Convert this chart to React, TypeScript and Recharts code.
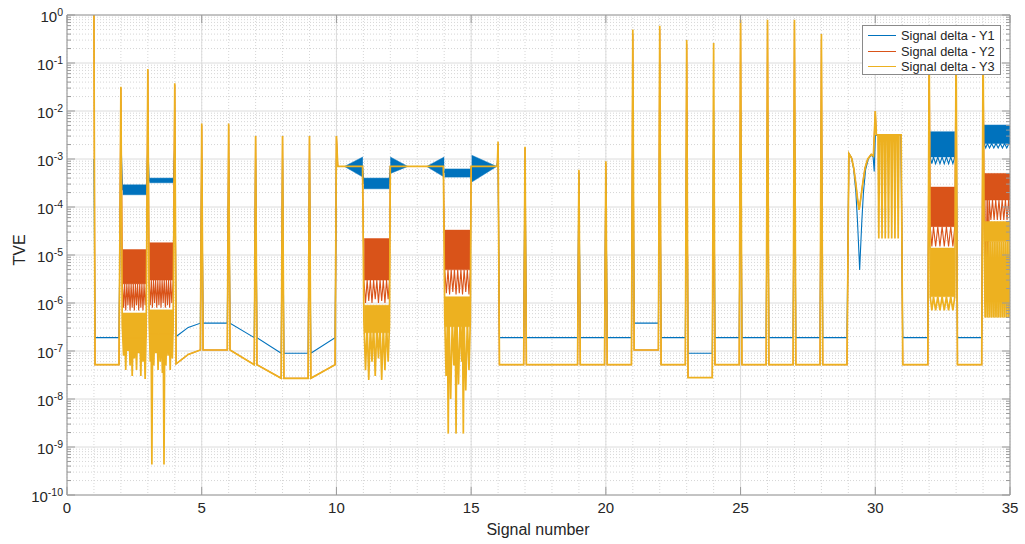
import React from "react";
import { ComposedChart, Line, Area, XAxis, YAxis, CartesianGrid } from "recharts";

const seriesNames = ["Signal delta - Y1", "Signal delta - Y2", "Signal delta - Y3"];
const seriesColors = ["#0072BD", "#D95319", "#EDB120"];

const xTicks = [0, 5, 10, 15, 20, 25, 30, 35];
const xMinorGrid = Array.from({ length: 36 }, (_, i) => i);
const decadeExps = [-10, -9, -8, -7, -6, -5, -4, -3, -2, -1, 0];
const yMajorTicks = decadeExps.map((e) => Math.pow(10, e));
const yMinorTicks = decadeExps
  .slice(0, -1)
  .flatMap((e) => [2, 3, 4, 5, 6, 7, 8, 9].map((m) => m * Math.pow(10, e)));
const yAllTicks = [...yMajorTicks, ...yMinorTicks].sort((a, b) => a - b);

// [signal, TVE]
const y1Path: [number, number][] = [
  [1.0, 1e-3], [1.04, 1.9e-7], [1.93, 1.9e-7], [2.0, 3e-3], [2.06, 2.3e-4], [2.95, 2.3e-4],
  [3.0, 2e-3], [3.05, 3.5e-4], [3.95, 3.5e-4], [4.0, 2e-3], [4.05, 2e-7], [4.5, 3.1e-7],
  [4.95, 3.8e-7], [5.0, 1e-3], [5.05, 3.8e-7], [5.95, 3.8e-7], [6.0, 1e-3], [6.05, 3.8e-7],
  [6.95, 1.9e-7], [7.0, 1e-3], [7.05, 1.9e-7], [7.95, 9e-8], [8.0, 1e-3], [8.05, 9e-8],
  [8.95, 9e-8], [9.0, 1e-3], [9.05, 9e-8], [9.95, 1.9e-7], [10.0, 1e-3], [10.05, 7e-4],
  [10.97, 7e-4], [11.02, 3.1e-4], [11.95, 3.1e-4], [12.0, 7e-4], [13.95, 7e-4],
  [14.02, 5.2e-4], [14.97, 5.2e-4], [15.02, 7e-4], [15.95, 7e-4], [16.0, 1e-3], [16.05, 1.9e-7],
  [16.95, 1.9e-7], [17.0, 1e-3], [17.05, 1.9e-7], [18.95, 1.9e-7], [19.0, 5e-4], [19.05, 1.9e-7],
  [19.95, 1.9e-7], [20.0, 5e-4], [20.05, 1.9e-7], [20.95, 1.9e-7], [21.0, 1e-2], [21.05, 3.8e-7],
  [21.95, 3.8e-7], [22.0, 1e-2], [22.05, 1.9e-7], [22.95, 1.9e-7], [23.0, 1e-2], [23.05, 9e-8],
  [23.95, 9e-8], [24.0, 1e-2], [24.05, 1.9e-7], [24.95, 1.9e-7], [25.0, 1e-2], [25.05, 1.9e-7],
  [25.95, 1.9e-7], [26.0, 1e-2], [26.05, 1.9e-7], [26.95, 1.9e-7], [27.0, 1e-2], [27.05, 1.9e-7],
  [27.95, 1.9e-7], [28.0, 1e-2], [28.05, 1.9e-7], [28.95, 1.9e-7], [29.02, 1.3e-3], [29.12, 1.05e-3],
  [29.2, 6e-4], [29.28, 2e-4], [29.34, 5e-5], [29.39, 1.2e-5], [29.42, 4.9e-6], [29.45, 1.2e-5],
  [29.5, 5e-5], [29.56, 2e-4], [29.64, 6e-4], [29.74, 1e-3], [29.85, 1.2e-3], [29.92, 1.1e-3],
  [29.96, 5.5e-4], [30.0, 3e-3], [30.05, 3.2e-3], [30.95, 3.2e-3], [31.02, 1.9e-7], [31.95, 1.9e-7],
  [32.0, 3e-3], [32.04, 1.1e-3], [32.1, 8e-4], [32.16, 1.1e-3], [32.24, 8e-4], [32.32, 1.1e-3],
  [32.4, 8e-4], [32.48, 1.1e-3], [32.56, 8e-4], [32.64, 1.1e-3], [32.72, 8e-4], [32.8, 1.1e-3],
  [32.88, 8e-4], [32.95, 1.1e-3], [33.0, 1e-2], [33.05, 1.9e-7], [33.95, 1.9e-7], [34.0, 1e-2],
  [34.04, 2.1e-3], [34.1, 1.7e-3], [34.16, 2.1e-3], [34.24, 1.7e-3], [34.32, 2.1e-3], [34.4, 1.7e-3],
  [34.48, 2.1e-3], [34.56, 1.7e-3], [34.64, 2.1e-3], [34.72, 1.7e-3], [34.8, 2.1e-3], [34.88, 1.7e-3],
  [34.96, 2.1e-3], [35.0, 2.1e-3],
];

const y2Path: [number, number][] = [
  [1.0, 1.0], [1.04, 5.2e-8], [1.93, 5.2e-8], [2.0, 3e-2],
  [2.06, 2.5e-6], [2.1, 8e-7], [2.14, 2.5e-6], [2.18, 7e-7], [2.22, 2.5e-6], [2.26, 9e-7],
  [2.3, 2.5e-6], [2.34, 7e-7], [2.38, 2.5e-6], [2.42, 8e-7], [2.46, 2.5e-6], [2.5, 7e-7],
  [2.54, 2.5e-6], [2.58, 9e-7], [2.62, 2.5e-6], [2.66, 7e-7], [2.7, 2.5e-6], [2.74, 8e-7],
  [2.78, 2.5e-6], [2.82, 7e-7], [2.86, 2.5e-6], [2.9, 9e-7], [2.95, 2.5e-6], [3.0, 7e-2],
  [3.05, 3e-6], [3.09, 9e-7], [3.13, 3e-6], [3.17, 8e-7], [3.21, 3e-6], [3.25, 1e-6],
  [3.29, 3e-6], [3.33, 8e-7], [3.37, 3e-6], [3.41, 9e-7], [3.45, 3e-6], [3.49, 8e-7],
  [3.53, 3e-6], [3.57, 1e-6], [3.61, 3e-6], [3.65, 8e-7], [3.69, 3e-6], [3.73, 9e-7],
  [3.77, 3e-6], [3.81, 8e-7], [3.85, 3e-6], [3.89, 1e-6], [3.94, 3e-6], [4.0, 3.5e-2],
  [4.05, 5.4e-8], [4.5, 8.5e-8], [4.95, 1.05e-7], [5.0, 5e-3], [5.05, 1.05e-7], [5.95, 1.05e-7],
  [6.0, 5e-3], [6.05, 1.05e-7], [6.95, 5.2e-8], [7.0, 3e-3], [7.05, 5.2e-8], [7.95, 2.7e-8],
  [8.0, 3e-3], [8.05, 2.7e-8], [8.95, 2.7e-8], [9.0, 3e-3], [9.05, 2.7e-8], [9.95, 5.2e-8],
  [10.0, 3e-3], [10.05, 7e-4], [10.97, 7e-4],
  [11.02, 3e-6], [11.08, 1e-6], [11.14, 3e-6], [11.2, 1.1e-6], [11.26, 3e-6], [11.32, 1e-6],
  [11.38, 3e-6], [11.44, 1.2e-6], [11.5, 3e-6], [11.56, 1e-6], [11.62, 3e-6], [11.68, 1.1e-6],
  [11.74, 3e-6], [11.8, 1e-6], [11.86, 3e-6], [11.92, 1.2e-6], [11.97, 3e-6],
  [12.0, 7e-4], [13.97, 7e-4],
  [14.02, 4.9e-6], [14.08, 1.6e-6], [14.14, 4.9e-6], [14.2, 1.5e-6], [14.26, 4.9e-6],
  [14.32, 1.7e-6], [14.38, 4.9e-6], [14.44, 1.5e-6], [14.5, 4.9e-6], [14.56, 1.6e-6],
  [14.62, 4.9e-6], [14.68, 1.5e-6], [14.74, 4.9e-6], [14.8, 1.7e-6], [14.86, 4.9e-6],
  [14.92, 1.5e-6], [14.97, 4.9e-6],
  [15.0, 7e-4], [15.97, 7e-4], [16.0, 2e-3], [16.05, 5.2e-8], [16.95, 5.2e-8], [17.0, 1.7e-3],
  [17.05, 5.2e-8], [18.95, 5.2e-8], [19.0, 5.5e-4], [19.05, 5.2e-8], [19.95, 5.2e-8],
  [20.0, 8e-4], [20.05, 5.2e-8], [20.95, 5.2e-8], [21.0, 0.4], [21.05, 1.05e-7], [21.95, 1.05e-7],
  [22.0, 0.5], [22.05, 5.2e-8], [22.95, 5.2e-8], [23.0, 0.25], [23.05, 2.8e-8], [23.95, 2.8e-8],
  [24.0, 3e-4], [24.05, 5.2e-8], [24.95, 5.2e-8], [25.0, 0.7], [25.05, 5.2e-8], [25.95, 5.2e-8],
  [26.0, 0.7], [26.05, 5.2e-8], [26.95, 5.2e-8], [27.0, 0.7], [27.05, 5.2e-8], [27.95, 5.2e-8],
  [28.0, 0.3], [28.05, 5.2e-8], [28.95, 5.2e-8], [29.02, 1.3e-3], [29.12, 1.05e-3], [29.2, 6.5e-4],
  [29.28, 3e-4], [29.34, 1.5e-4], [29.4, 8.7e-5], [29.46, 1.5e-4], [29.53, 3e-4], [29.62, 6.5e-4],
  [29.72, 1e-3], [29.85, 1.25e-3], [29.93, 1.15e-3], [30.0, 1e-2], [30.04, 3.2e-3],
  [30.96, 3.2e-3], [31.02, 5.2e-8], [31.95, 5.2e-8], [32.0, 0.3],
  [32.04, 3.9e-5], [32.1, 1.5e-5], [32.16, 3.9e-5], [32.24, 1.5e-5], [32.32, 3.9e-5], [32.4, 1.5e-5],
  [32.48, 3.9e-5], [32.56, 1.5e-5], [32.64, 3.9e-5], [32.72, 1.5e-5], [32.8, 3.9e-5], [32.88, 1.5e-5],
  [32.95, 3.9e-5], [33.0, 0.3], [33.05, 5.2e-8], [33.95, 5.2e-8], [34.0, 0.3],
  [34.04, 1.4e-4], [34.08, 8.4e-7], [34.11, 1.4e-4], [34.14, 1.2e-6], [34.17, 1.4e-4], [34.2, 3e-6],
  [34.23, 1.4e-4], [34.29, 5.4e-5], [34.35, 1.4e-4], [34.41, 5.4e-5], [34.47, 1.4e-4], [34.53, 5.4e-5],
  [34.59, 1.4e-4], [34.65, 5.4e-5], [34.71, 1.4e-4], [34.77, 5.4e-5], [34.83, 1.4e-4], [34.89, 5.4e-5],
  [34.95, 1.4e-4], [35.0, 6e-5],
];

const y3Path: [number, number][] = [
  [1.0, 1.0], [1.04, 5.2e-8], [1.93, 5.2e-8], [2.0, 3.2e-2],
  [2.05, 3.5e-7], [2.1, 8e-8], [2.14, 3e-7], [2.18, 4e-8], [2.22, 3e-7], [2.26, 1e-7],
  [2.3, 3e-7], [2.34, 5e-8], [2.38, 3e-7], [2.42, 3e-8], [2.46, 3e-7], [2.5, 7e-8],
  [2.54, 3e-7], [2.58, 4e-8], [2.62, 3e-7], [2.66, 9e-8], [2.7, 3e-7], [2.74, 3e-8],
  [2.78, 3e-7], [2.82, 6e-8], [2.86, 3e-7], [2.9, 2.6e-8], [2.94, 3e-7], [3.0, 7.5e-2],
  [3.05, 4e-7], [3.09, 6e-8], [3.12, 3.5e-7], [3.15, 4.3e-10], [3.18, 3.5e-7], [3.22, 5e-8],
  [3.26, 3.5e-7], [3.3, 9e-8], [3.34, 3.5e-7], [3.38, 4e-8], [3.42, 3.5e-7], [3.46, 6e-8],
  [3.5, 3.5e-7], [3.54, 3.5e-8], [3.57, 3.5e-7], [3.6, 4.3e-10], [3.63, 3.5e-7], [3.67, 5e-8],
  [3.71, 3.5e-7], [3.75, 8e-8], [3.79, 3.5e-7], [3.83, 4e-8], [3.87, 3.5e-7], [3.91, 7e-8],
  [3.94, 3.5e-7], [4.0, 3.8e-2],
  [4.05, 5.4e-8], [4.5, 8.5e-8], [4.95, 1.05e-7], [5.0, 5.5e-3], [5.05, 1.05e-7], [5.95, 1.05e-7],
  [6.0, 5.5e-3], [6.05, 1.05e-7], [6.95, 5.2e-8], [7.0, 3e-3], [7.05, 5.2e-8], [7.95, 2.7e-8],
  [8.0, 3e-3], [8.05, 2.7e-8], [8.95, 2.7e-8], [9.0, 3e-3], [9.05, 2.7e-8], [9.95, 5.2e-8],
  [10.0, 3e-3], [10.05, 7e-4], [10.97, 7e-4],
  [11.02, 4e-7], [11.08, 4e-8], [11.14, 3.5e-7], [11.2, 2.5e-8], [11.26, 3.5e-7], [11.32, 6e-8],
  [11.38, 3.5e-7], [11.44, 3e-8], [11.5, 3.5e-7], [11.56, 7e-8], [11.62, 3.5e-7], [11.68, 2.5e-8],
  [11.74, 3.5e-7], [11.8, 4e-8], [11.86, 3.5e-7], [11.92, 6e-8], [11.97, 3.5e-7],
  [12.0, 7e-4], [13.97, 7e-4],
  [14.02, 5e-7], [14.07, 3e-8], [14.12, 4.5e-7], [14.15, 1.9e-9], [14.18, 4.5e-7], [14.24, 1e-8],
  [14.3, 4.5e-7], [14.36, 5e-8], [14.41, 4.5e-7], [14.44, 1.9e-9], [14.47, 4.5e-7], [14.53, 2e-8],
  [14.59, 4.5e-7], [14.65, 6e-8], [14.68, 4.5e-7], [14.71, 1.9e-9], [14.74, 4.5e-7], [14.8, 1.5e-8],
  [14.86, 4.5e-7], [14.92, 4e-8], [14.97, 4.5e-7],
  [15.0, 7e-4], [15.97, 7e-4], [16.0, 2.3e-3], [16.05, 5.2e-8], [16.95, 5.2e-8], [17.0, 1.8e-3],
  [17.05, 5.2e-8], [18.95, 5.2e-8], [19.0, 6e-4], [19.05, 5.2e-8], [19.95, 5.2e-8],
  [20.0, 9e-4], [20.05, 5.2e-8], [20.95, 5.2e-8], [21.0, 0.5], [21.05, 1.05e-7], [21.95, 1.05e-7],
  [22.0, 0.6], [22.05, 5.2e-8], [22.95, 5.2e-8], [23.0, 0.3], [23.05, 2.8e-8], [23.95, 2.8e-8],
  [24.0, 0.26], [24.05, 5.2e-8], [24.95, 5.2e-8], [25.0, 0.8], [25.05, 5.2e-8], [25.95, 5.2e-8],
  [26.0, 0.8], [26.05, 5.2e-8], [26.95, 5.2e-8], [27.0, 0.8], [27.05, 5.2e-8], [27.95, 5.2e-8],
  [28.0, 0.4], [28.05, 5.2e-8], [28.95, 5.2e-8],
  [29.02, 1.3e-3], [29.12, 1.05e-3], [29.2, 6.5e-4], [29.28, 3e-4], [29.34, 1.5e-4], [29.4, 8.7e-5],
  [29.46, 1.5e-4], [29.53, 3e-4], [29.62, 6.5e-4], [29.72, 1e-3], [29.85, 1.25e-3],
  [29.93, 1.15e-3], [30.0, 1e-2],
  [30.04, 3.2e-3], [30.1, 3.2e-3], [30.13, 2.2e-5], [30.16, 3.2e-3], [30.22, 3.2e-3], [30.25, 2.2e-5],
  [30.28, 3.2e-3], [30.34, 3.2e-3], [30.37, 2.2e-5], [30.4, 3.2e-3], [30.46, 3.2e-3], [30.49, 2.2e-5],
  [30.52, 3.2e-3], [30.58, 3.2e-3], [30.61, 2.2e-5], [30.64, 3.2e-3], [30.7, 3.2e-3], [30.73, 2.2e-5],
  [30.76, 3.2e-3], [30.82, 3.2e-3], [30.85, 2.2e-5], [30.88, 3.2e-3], [30.96, 3.2e-3],
  [31.02, 5.2e-8], [31.95, 5.2e-8], [32.0, 0.3],
  [32.04, 1.35e-6], [32.1, 7e-7], [32.16, 1.35e-6], [32.24, 7e-7], [32.32, 1.35e-6], [32.4, 7e-7],
  [32.48, 1.35e-6], [32.56, 7e-7], [32.64, 1.35e-6], [32.72, 7e-7], [32.8, 1.35e-6], [32.88, 7e-7],
  [32.95, 1.35e-6], [33.0, 0.3], [33.05, 5.2e-8], [33.95, 5.2e-8], [34.0, 0.3],
  [34.04, 1.9e-5], [34.08, 5e-7], [34.12, 1.9e-5], [34.16, 5e-7], [34.2, 1.9e-5], [34.24, 5e-7],
  [34.28, 1.9e-5], [34.32, 5e-7], [34.36, 1.9e-5], [34.4, 5e-7], [34.44, 1.9e-5], [34.48, 5e-7],
  [34.52, 1.9e-5], [34.56, 5e-7], [34.6, 1.9e-5], [34.64, 5e-7], [34.68, 1.9e-5], [34.72, 5e-7],
  [34.76, 1.9e-5], [34.8, 5e-7], [34.84, 1.9e-5], [34.88, 5e-7], [34.92, 1.9e-5], [34.96, 5e-7],
  [35.0, 1.9e-5],
];

// dense oscillation envelopes: [signal, low, high]
const y1Bands: [number, number, number][][] = [
  [[2.07, 1.8e-4, 2.9e-4], [2.96, 1.8e-4, 2.9e-4]],
  [[3.06, 3.2e-4, 4e-4], [3.95, 3.2e-4, 4e-4]],
  [[10.3, 7e-4, 7e-4], [10.98, 4.2e-4, 1.1e-3]],
  [[11.02, 2.4e-4, 4e-4], [11.97, 2.4e-4, 4e-4]],
  [[12.0, 5e-4, 1.1e-3], [12.65, 7e-4, 7e-4]],
  [[13.35, 7e-4, 7e-4], [14.0, 4.2e-4, 1.1e-3]],
  [[14.02, 4.2e-4, 6.2e-4], [15.0, 4.2e-4, 6.2e-4]],
  [[15.02, 3.3e-4, 1.2e-3], [15.95, 7e-4, 7e-4]],
  [[32.04, 1.1e-3, 3.7e-3], [32.95, 1.1e-3, 3.7e-3]],
  [[34.04, 2.1e-3, 5.1e-3], [35.0, 2.1e-3, 5.1e-3]],
];

const y2Bands: [number, number, number][][] = [
  [[2.07, 2.5e-6, 1.3e-5], [2.96, 2.5e-6, 1.3e-5]],
  [[3.06, 3e-6, 1.8e-5], [3.95, 3e-6, 1.8e-5]],
  [[11.03, 3e-6, 2.2e-5], [11.96, 3e-6, 2.2e-5]],
  [[14.03, 4.9e-6, 3.3e-5], [14.97, 4.9e-6, 3.3e-5]],
  [[32.04, 3.9e-5, 2.6e-4], [32.95, 3.9e-5, 2.6e-4]],
  [[34.04, 1.4e-4, 5e-4], [35.0, 1.4e-4, 5e-4]],
];

const y3Bands: [number, number, number][][] = [
  [[2.07, 1.9e-7, 6.2e-7], [2.96, 1.9e-7, 6.2e-7]],
  [[3.06, 2.3e-7, 7.2e-7], [3.95, 2.3e-7, 7.2e-7]],
  [[11.03, 2.4e-7, 9e-7], [11.96, 2.4e-7, 9e-7]],
  [[14.03, 3.2e-7, 1.35e-6], [14.97, 3.2e-7, 1.35e-6]],
  [[32.04, 1.35e-6, 1.4e-5], [32.95, 1.35e-6, 1.4e-5]],
  [[34.04, 1.9e-5, 5e-5], [35.0, 1.9e-5, 5e-5]],
];

const y3Hatch: [number, number, number][] = [
  [34.04, 5e-7, 1.9e-5],
  [35.0, 5e-7, 1.9e-5],
];

const FONT = "'Liberation Sans', Arial, Helvetica, sans-serif";
const AXIS = "#9a9a9a";
const TEXT = "#262626";

const toPoints = (p: [number, number][]) => p.map(([x, y]) => ({ x, y }));
const toBand = (b: [number, number, number][]) => b.map(([x, lo, hi]) => ({ x, r: [lo, hi] }));

const LeftTick = (props: any) => {
  const { x, y, payload } = props;
  const i = yMajorTicks.indexOf(payload.value);
  const major = i >= 0;
  return (
    <g>
      <line x1={x} x2={x + (major ? 8 : 4)} y1={y} y2={y} stroke={AXIS} />
      {major && (
        <text x={x - 4} y={y + 7} textAnchor="end" fontSize={15} fill={TEXT} fontFamily={FONT}>
          <tspan>10</tspan>
          <tspan dy={-6} fontSize={10.5}>{decadeExps[i]}</tspan>
        </text>
      )}
    </g>
  );
};

const RightTick = (props: any) => {
  const { x, y, payload } = props;
  const major = yMajorTicks.indexOf(payload.value) >= 0;
  return <line x1={x} x2={x - (major ? 8 : 4)} y1={y} y2={y} stroke={AXIS} />;
};

const BottomTick = (props: any) => {
  const { x, y, payload } = props;
  return (
    <g>
      <line x1={x} x2={x} y1={y} y2={y - 8} stroke={AXIS} />
      <text x={x} y={y + 18} textAnchor="middle" fontSize={15} fill={TEXT} fontFamily={FONT}>
        {payload.value}
      </text>
    </g>
  );
};

const TopTick = (props: any) => {
  const { x, y } = props;
  return <line x1={x} x2={x} y1={y} y2={y + 8} stroke={AXIS} />;
};

export default function App() {
  return (
    <div style={{ position: "absolute", left: 0, top: 0, width: 1025, height: 544, background: "#fff", fontFamily: FONT }}>
      <ComposedChart width={1025} height={544} margin={{ top: 10, right: 10, bottom: 9, left: 0 }}>
        <CartesianGrid horizontalValues={yMinorTicks} verticalValues={xMinorGrid} stroke="#d6d6d6" strokeDasharray="1 2" />
        <CartesianGrid horizontalValues={yMajorTicks} verticalValues={xTicks} stroke="#dcdcdc" />
        <XAxis
          dataKey="x" type="number" domain={[0, 35]} ticks={xTicks} allowDataOverflow interval={0}
          height={40} tickSize={0} tickMargin={0} tickLine={false} axisLine={{ stroke: AXIS }} tick={<BottomTick />}
        />
        <XAxis
          xAxisId="top" orientation="top" dataKey="x" type="number" domain={[0, 35]} ticks={xTicks} allowDataOverflow interval={0}
          height={5} tickSize={0} tickMargin={0} tickLine={false} axisLine={{ stroke: AXIS }} tick={<TopTick />}
        />
        <YAxis
          type="number" scale="log" domain={[1e-10, 1]} ticks={yAllTicks} allowDataOverflow interval={0}
          width={67} tickSize={0} tickMargin={0} tickLine={false} axisLine={{ stroke: AXIS }} tick={<LeftTick />}
        />
        <YAxis
          yAxisId="right" orientation="right" type="number" scale="log" domain={[1e-10, 1]} ticks={yAllTicks} allowDataOverflow interval={0}
          width={5} tickSize={0} tickMargin={0} tickLine={false} axisLine={{ stroke: AXIS }} tick={<RightTick />}
        />

        <Line data={toPoints(y1Path)} dataKey="y" type="linear" stroke={seriesColors[0]} strokeWidth={1.1} dot={false} activeDot={false} isAnimationActive={false} zIndex={401} />
        {y1Bands.map((b, i) => (
          <Area key={"b1" + i} data={toBand(b)} dataKey="r" type="linear" stroke={seriesColors[0]} strokeWidth={0.5} fill={seriesColors[0]} fillOpacity={1} dot={false} activeDot={false} isAnimationActive={false} zIndex={402} />
        ))}
        <Line data={toPoints(y2Path)} dataKey="y" type="linear" stroke={seriesColors[1]} strokeWidth={1.1} dot={false} activeDot={false} isAnimationActive={false} zIndex={403} />
        {y2Bands.map((b, i) => (
          <Area key={"b2" + i} data={toBand(b)} dataKey="r" type="linear" stroke={seriesColors[1]} strokeWidth={0.5} fill={seriesColors[1]} fillOpacity={1} dot={false} activeDot={false} isAnimationActive={false} zIndex={404} />
        ))}
        <Area data={toBand(y3Hatch)} dataKey="r" type="linear" stroke="none" fill={seriesColors[2]} fillOpacity={0.4} dot={false} activeDot={false} isAnimationActive={false} zIndex={405} />
        <Line data={toPoints(y3Path)} dataKey="y" type="linear" stroke={seriesColors[2]} strokeWidth={1.7} dot={false} activeDot={false} isAnimationActive={false} zIndex={406} />
        {y3Bands.map((b, i) => (
          <Area key={"b3" + i} data={toBand(b)} dataKey="r" type="linear" stroke={seriesColors[2]} strokeWidth={0.5} fill={seriesColors[2]} fillOpacity={1} dot={false} activeDot={false} isAnimationActive={false} zIndex={407} />
        ))}
      </ComposedChart>

      <div style={{ position: "absolute", left: 20, top: 250, transform: "translate(-50%, -50%) rotate(-90deg)", fontSize: 16, color: TEXT, whiteSpace: "nowrap" }}>
        TVE
      </div>
      <div style={{ position: "absolute", left: 538, top: 530, transform: "translate(-50%, -50%)", fontSize: 16, color: TEXT, whiteSpace: "nowrap" }}>
        Signal number
      </div>

      <div style={{ position: "absolute", left: 862, top: 25, width: 139, height: 50, background: "#fff", border: "1px solid #8a8a8a", boxSizing: "border-box", paddingTop: 2 }}>
        {seriesNames.map((name, i) => (
          <div key={name} style={{ display: "flex", alignItems: "center", height: 15.5, fontSize: 12.8, color: TEXT, whiteSpace: "nowrap" }}>
            <span style={{ display: "inline-block", width: 28, height: 0, borderTop: `1px solid ${seriesColors[i]}`, marginLeft: 5, marginRight: 5 }} />
            {name}
          </div>
        ))}
      </div>
    </div>
  );
}
